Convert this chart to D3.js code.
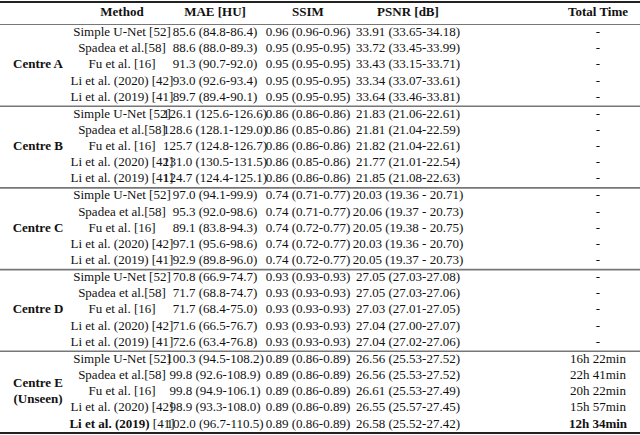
<html>
<script src="https://cdn.jsdelivr.net/npm/d3@7"></script>
<style>
  body { margin: 0; background: white; }
  svg text { font-family: "Liberation Serif", "Times New Roman", Times, "DejaVu Serif", serif; font-size: 13px; fill: #111; }
</style>
<body>
<div id="chart"></div>
<script>
  const headers = ["Method", "MAE [HU]", "SSIM", "PSNR [dB]", "Total Time"];
  const centres = ["Centre A", "Centre B", "Centre C", "Centre D", "Centre E|(Unseen)"];
  const methods = ["Simple U-Net [52]", "Spadea et al.[58]", "Fu et al. [16]", "Li et al. (2020) [42]", "Li et al. (2019) [41]"];
  const mae = [
    ["85.6 (84.8-86.4)", "88.6 (88.0-89.3)", "91.3 (90.7-92.0)", "93.0 (92.6-93.4)", "89.7 (89.4-90.1)"],
    ["126.1 (125.6-126.6)", "128.6 (128.1-129.0)", "125.7 (124.8-126.7)", "131.0 (130.5-131.5)", "124.7 (124.4-125.1)"],
    ["97.0 (94.1-99.9)", "95.3 (92.0-98.6)", "89.1 (83.8-94.3)", "97.1 (95.6-98.6)", "92.9 (89.8-96.0)"],
    ["70.8 (66.9-74.7)", "71.7 (68.8-74.7)", "71.7 (68.4-75.0)", "71.6 (66.5-76.7)", "72.6 (63.4-76.8)"],
    ["100.3 (94.5-108.2)", "99.8 (92.6-108.9)", "99.8 (94.9-106.1)", "98.9 (93.3-108.0)", "102.0 (96.7-110.5)"]
  ];
  const ssim = [
    ["0.96 (0.96-0.96)", "0.95 (0.95-0.95)", "0.95 (0.95-0.95)", "0.95 (0.95-0.95)", "0.95 (0.95-0.95)"],
    ["0.86 (0.86-0.86)", "0.86 (0.85-0.86)", "0.86 (0.86-0.86)", "0.86 (0.85-0.86)", "0.86 (0.86-0.86)"],
    ["0.74 (0.71-0.77)", "0.74 (0.71-0.77)", "0.74 (0.72-0.77)", "0.74 (0.72-0.77)", "0.74 (0.72-0.77)"],
    ["0.93 (0.93-0.93)", "0.93 (0.93-0.93)", "0.93 (0.93-0.93)", "0.93 (0.93-0.93)", "0.93 (0.93-0.93)"],
    ["0.89 (0.86-0.89)", "0.89 (0.86-0.89)", "0.89 (0.86-0.89)", "0.89 (0.86-0.89)", "0.89 (0.86-0.89)"]
  ];
  const psnr = [
    ["33.91 (33.65-34.18)", "33.72 (33.45-33.99)", "33.43 (33.15-33.71)", "33.34 (33.07-33.61)", "33.64 (33.46-33.81)"],
    ["21.83 (21.06-22.61)", "21.81 (21.04-22.59)", "21.82 (21.04-22.61)", "21.77 (21.01-22.54)", "21.85 (21.08-22.63)"],
    ["20.03 (19.36 - 20.71)", "20.06 (19.37 - 20.73)", "20.05 (19.38 - 20.75)", "20.03 (19.36 - 20.70)", "20.05 (19.37 - 20.73)"],
    ["27.05 (27.03-27.08)", "27.05 (27.03-27.06)", "27.03 (27.01-27.05)", "27.04 (27.00-27.07)", "27.04 (27.02-27.06)"],
    ["26.56 (25.53-27.52)", "26.56 (25.53-27.52)", "26.61 (25.53-27.49)", "26.55 (25.57-27.45)", "26.58 (25.52-27.42)"]
  ];
  const times = [
    ["-", "-", "-", "-", "-"], ["-", "-", "-", "-", "-"], ["-", "-", "-", "-", "-"], ["-", "-", "-", "-", "-"],
    ["16h 22min", "22h 41min", "20h 22min", "15h 57min", "12h 34min"]
  ];

  const W = 640, H = 435;
  const svg = d3.select("#chart").append("svg").attr("width", W).attr("height", H)
    .attr("font-family", "Liberation Serif, Times New Roman, serif");

  const xs = { "centre": 38, "Method": 122, "MAE [HU]": 215, "SSIM": 308, "PSNR [dB]": 408, "Total Time": 598 };
  const x = k => xs[k];
  const gy = d3.scaleLinear().domain([0, 5]).range([24.5, 433]);
  const ry = d3.scaleLinear().domain([0, 1]).range([0, 16.2]);

  svg.append("line").attr("x1", 0).attr("x2", W).attr("y1", 2).attr("y2", 2).attr("stroke", "#222").attr("stroke-width", 2.2);
  svg.append("line").attr("x1", 0).attr("x2", W).attr("y1", 24.5).attr("y2", 24.5).attr("stroke", "#777").attr("stroke-width", 1);
  d3.range(1, 5).forEach(g => {
    svg.append("line").attr("x1", 0).attr("x2", W).attr("y1", gy(g)).attr("y2", gy(g)).attr("stroke", "#777").attr("stroke-width", 1.6);
  });
  svg.append("line").attr("x1", 0).attr("x2", W).attr("y1", 433).attr("y2", 433).attr("stroke", "#222").attr("stroke-width", 2.2);

  svg.selectAll(".hdr").data(headers).enter().append("text")
    .attr("x", d => x(d)).attr("y", 13).attr("text-anchor", "middle").attr("dominant-baseline", "middle")
    .style("font-weight", "bold").text(d => d);

  centres.forEach((c, g) => {
    const top = gy(g);
    const lines = c.split("|");
    const mid = top + 8.5 + ry(2);
    lines.forEach((l, i) => {
      svg.append("text").attr("x", x("centre")).attr("y", mid + (i - (lines.length - 1) / 2) * 16)
        .attr("text-anchor", "middle").attr("dominant-baseline", "middle").style("font-weight", "bold").text(l);
    });
    methods.forEach((m, i) => {
      const y = top + 8.5 + ry(i);
      const bold = g === 4 && i === 4;
      const cells = [["Method", m], ["MAE [HU]", mae[g][i]], ["SSIM", ssim[g][i]], ["PSNR [dB]", psnr[g][i]], ["Total Time", times[g][i]]];
      cells.forEach(([k, v], j) => {
        const t = svg.append("text").attr("x", x(k)).attr("y", y).attr("text-anchor", "middle").attr("dominant-baseline", "middle");
        if (bold && j === 0) {
          t.append("tspan").style("font-weight", "bold").text("Li et al. (2019)");
          t.append("tspan").text(" [41]");
        } else {
          t.text(v);
          if (bold && j === 4) t.style("font-weight", "bold");
        }
      });
    });
  });
</script>
</body>
</html>
